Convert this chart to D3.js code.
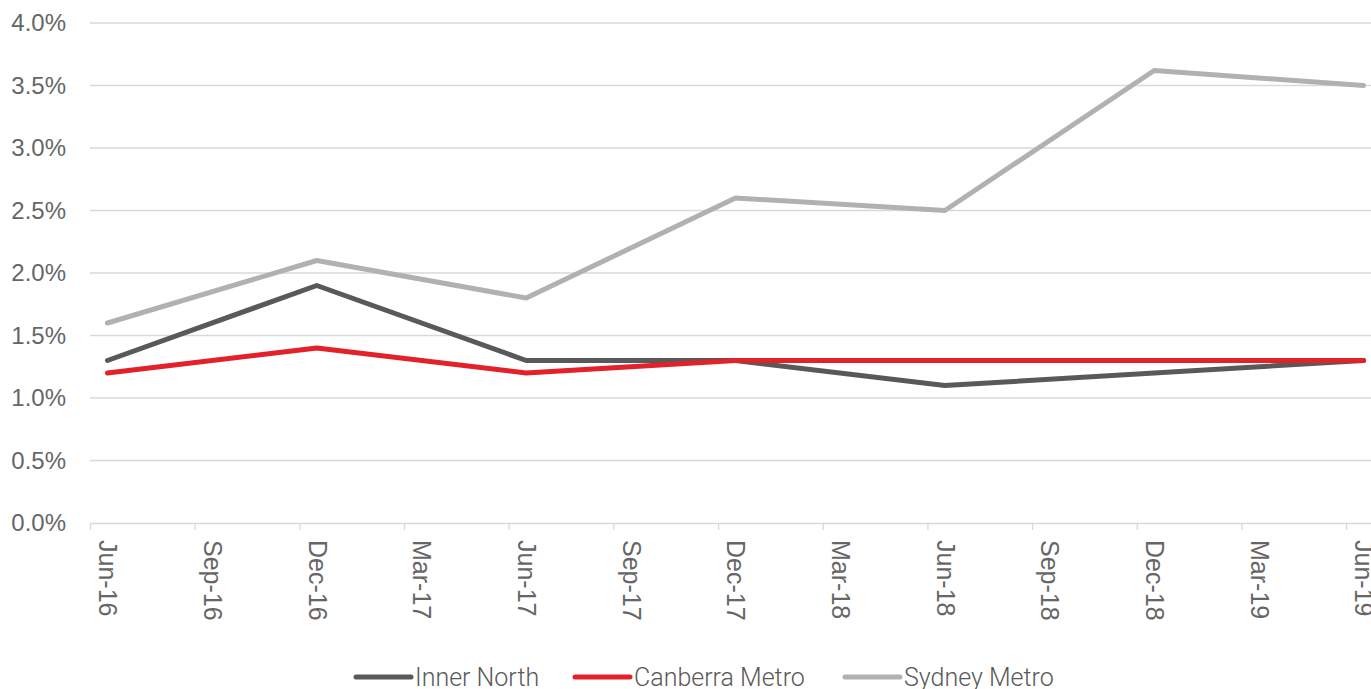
<!DOCTYPE html>
<html>
<head>
<meta charset="utf-8">
<script src="https://cdn.jsdelivr.net/npm/d3@7"></script>
<style>
  body { margin: 0; background: #fff; }
  svg { display: block; font-family: Roboto, "Liberation Sans", sans-serif; font-weight: 300; }
</style>
</head>
<body>
<div id="chart"></div>
<script>
// quarterly category labels (x axis)
const quarters = ["Jun-16", "Sep-16", "Dec-16", "Mar-17", "Jun-17", "Sep-17", "Dec-17",
                  "Mar-18", "Jun-18", "Sep-18", "Dec-18", "Mar-19", "Jun-19"];

// values in %, reported half-yearly (null = no value that quarter)
const innerNorth    = [1.3, null, 1.9, null, 1.3, null, 1.3, null, 1.1, null, 1.2, null, 1.3];
const canberraMetro = [1.2, null, 1.4, null, 1.2, null, 1.3, null, 1.3, null, 1.3, null, 1.3];
const sydneyMetro   = [1.6, null, 2.1, null, 1.8, null, 2.6, null, 2.5, null, 3.62, null, 3.5];

const yTicks = [0, 0.5, 1, 1.5, 2, 2.5, 3, 3.5, 4];

const series = [
  { name: "Inner North",    values: innerNorth,    color: "#595959" },
  { name: "Canberra Metro", values: canberraMetro, color: "#e2212a" },
  { name: "Sydney Metro",   values: sydneyMetro,   color: "#b1b1b1" }
];

const W = 1371, H = 689;
const plotLeft = 90, plotTop = 23, plotBottom = 523;
const axisFont = "'Liberation Sans', Arial, sans-serif";

const svg = d3.select("#chart").append("svg")
  .attr("width", W)
  .attr("height", H);

// monthly date axis: each quarter = 3 months, points sit mid-month
const nMonths = (quarters.length - 1) * 3 + 1;
const x = d3.scaleLinear()
  .domain([0, nMonths])
  .range([plotLeft, 1381]);

const y = d3.scaleLinear()
  .domain([0, 4])
  .range([plotBottom, plotTop]);

// gridlines
svg.append("g")
  .selectAll("line")
  .data(yTicks.slice(1))
  .join("line")
  .attr("x1", plotLeft)
  .attr("x2", W)
  .attr("y1", d => y(d))
  .attr("y2", d => y(d))
  .attr("stroke", "#d9d9d9")
  .attr("stroke-width", 1.3);

// y labels
svg.append("g")
  .selectAll("text")
  .data(yTicks)
  .join("text")
  .attr("x", 66)
  .attr("y", d => y(d))
  .attr("dy", "0.35em")
  .attr("text-anchor", "end")
  .attr("font-family", axisFont)
  .attr("font-weight", 400)
  .attr("font-size", "24px")
  .attr("fill", "#666")
  .text(d => d.toFixed(1) + "%");

// x axis line + tick marks at quarter starts
const xAxis = svg.append("g")
  .attr("transform", `translate(0,${plotBottom})`)
  .call(d3.axisBottom(x)
    .tickValues(quarters.map((q, i) => i * 3))
    .tickSize(7)
    .tickSizeOuter(0)
    .tickFormat(""));
xAxis.select(".domain").attr("stroke", "#d9d9d9").attr("stroke-width", 1.5);
xAxis.selectAll(".tick line").attr("stroke", "#d9d9d9").attr("stroke-width", 1.3);

// x labels, rotated, centred on the month of each quarter
const xLabels = svg.append("g")
  .attr("transform", `translate(0,${plotBottom})`)
  .call(d3.axisBottom(x)
    .tickValues(quarters.map((q, i) => i * 3 + 0.5))
    .tickSize(0)
    .tickFormat((d, i) => quarters[i]));
xLabels.select(".domain").remove();
xLabels.selectAll("text")
  .attr("transform", "rotate(90)")
  .attr("x", 17)
  .attr("y", 0)
  .attr("dy", "0.35em")
  .attr("text-anchor", "start")
  .attr("font-size", "25px")
  .attr("font-family", axisFont)
  .attr("font-weight", 400)
  .attr("fill", "#666");

// lines
const line = d3.line()
  .x(d => x(d.i * 3 + 0.5))
  .y(d => y(d.v));

series.forEach(s => {
  const pts = s.values
    .map((v, i) => ({ i: i, v: v }))
    .filter(d => d.v !== null);
  svg.append("path")
    .datum(pts)
    .attr("fill", "none")
    .attr("stroke", s.color)
    .attr("stroke-width", 5)
    .attr("stroke-linecap", "round")
    .attr("stroke-linejoin", "round")
    .attr("d", line);
});

// legend
const legendX = [356, 575, 845];
const legend = svg.append("g");
series.forEach((s, i) => {
  const g = legend.append("g").attr("transform", `translate(${legendX[i]},677)`);
  g.append("line")
    .attr("x1", 0).attr("x2", 55)
    .attr("stroke", s.color)
    .attr("stroke-width", 5)
    .attr("stroke-linecap", "round");
  g.append("text")
    .attr("x", 59)
    .attr("dy", "0.35em")
    .attr("font-size", "25px")
    .attr("fill", "#595959")
    .text(s.name);
});
</script>
</body>
</html>
